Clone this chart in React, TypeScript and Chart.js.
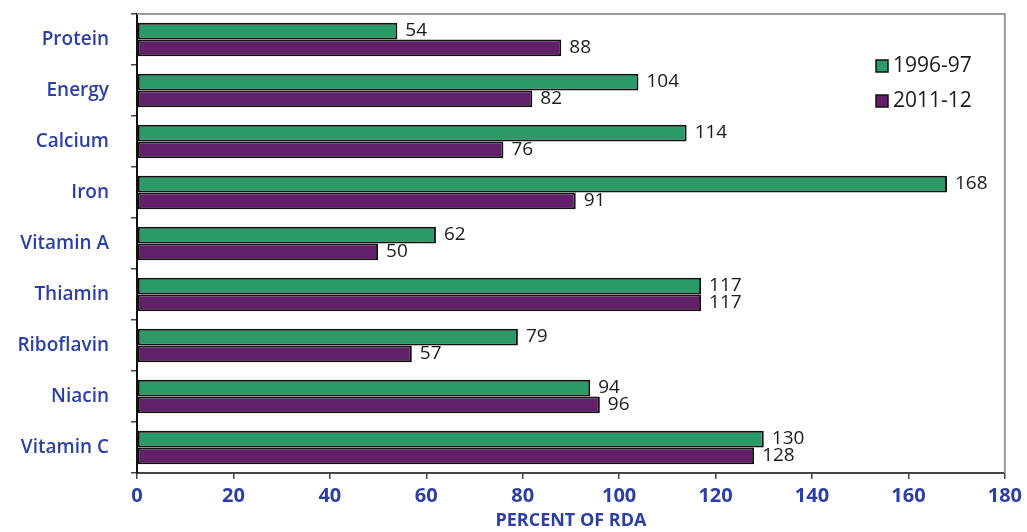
import React, { useEffect, useRef } from "react";
import { Chart, registerables } from "chart.js";

Chart.register(...registerables);

const categories = ["Protein", "Energy", "Calcium", "Iron", "Vitamin A", "Thiamin", "Riboflavin", "Niacin", "Vitamin C"];
const series1996 = [54, 104, 114, 168, 62, 117, 79, 94, 130];
const series2011 = [88, 82, 76, 91, 50, 117, 57, 96, 128];
const seriesLabels = ["1996-97", "2011-12"];
const xTicks = [0, 20, 40, 60, 80, 100, 120, 140, 160, 180];
const xTitle = "PERCENT OF RDA";

const GREEN = "#2a9a68";
const PURPLE = "#62206a";
const BLUE = "#2c3fa6";
const FONT = "'Open Sans', 'Noto Sans', sans-serif";

const framePlugin = {
  id: "frame",
  beforeDatasetsDraw(chart: any) {
    const { ctx, chartArea } = chart;
    ctx.save();
    ctx.strokeStyle = "#9a9a9a";
    ctx.lineWidth = 2;
    ctx.beginPath();
    ctx.moveTo(chartArea.left, chartArea.top);
    ctx.lineTo(chartArea.right, chartArea.top);
    ctx.lineTo(chartArea.right, chartArea.bottom);
    ctx.stroke();
    ctx.restore();
  },
};

const labelPlugin = {
  id: "valueLabels",
  afterDatasetsDraw(chart: any) {
    const { ctx } = chart;
    ctx.save();
    ctx.font = `19px ${FONT}`;
    ctx.fillStyle = "#1a1a1a";
    ctx.textAlign = "left";
    ctx.textBaseline = "middle";
    chart.data.datasets.forEach((ds: any, di: number) => {
      const meta = chart.getDatasetMeta(di);
      meta.data.forEach((el: any, i: number) => {
        ctx.fillText(String(ds.data[i]), el.x + 8, el.y);
      });
    });
    // legend
    const lx = 876;
    const ly = [66, 101];
    chart.data.datasets.forEach((ds: any, di: number) => {
      ctx.fillStyle = ds.backgroundColor;
      ctx.fillRect(lx, ly[di] - 6, 12, 12);
      ctx.strokeStyle = "#111";
      ctx.lineWidth = 1.5;
      ctx.strokeRect(lx, ly[di] - 6, 12, 12);
      ctx.fillStyle = "#1a1a1a";
      ctx.font = `21px ${FONT}`;
      ctx.fillText(ds.label, lx + 17, ly[di]);
    });
    ctx.restore();
  },
};

export default function App() {
  const ref = useRef<HTMLCanvasElement>(null);
  useEffect(() => {
    document.body.style.margin = "0";
    const chart = new Chart(ref.current as HTMLCanvasElement, {
      type: "bar",
      data: {
        labels: categories,
        datasets: [
          {
            label: seriesLabels[0],
            data: series1996,
            backgroundColor: GREEN,
            borderColor: "#111",
            borderWidth: 2,
            borderSkipped: false,
            categoryPercentage: 0.66,
            barPercentage: 1,
          },
          {
            label: seriesLabels[1],
            data: series2011,
            backgroundColor: PURPLE,
            borderColor: "#111",
            borderWidth: 2,
            borderSkipped: false,
            categoryPercentage: 0.66,
            barPercentage: 1,
          },
        ],
      },
      options: {
        indexAxis: "y",
        animation: false,
        responsive: false,
        maintainAspectRatio: false,
        layout: { padding: { top: 14, right: 21, left: 0, bottom: 0 } },
        plugins: { legend: { display: false }, tooltip: { enabled: false }, title: { display: false } },
        scales: {
          x: {
            min: 0,
            max: 180,
            afterBuildTicks(scale: any) {
              scale.ticks = xTicks.map((v) => ({ value: v }));
            },
            afterFit(scale: any) {
              scale.height = 59;
            },
            ticks: {
              color: BLUE,
              font: { family: FONT, size: 20, weight: "bold" },
              padding: 5,
            },
            grid: { display: true, drawOnChartArea: false, tickLength: 6, color: "#444", lineWidth: 1.5 },
            border: { display: true, color: "#444", width: 2 },
            title: {
              display: true,
              text: xTitle,
              color: BLUE,
              font: { family: FONT, size: 18, weight: "bold" },
              padding: { top: -4, bottom: 0 },
            },
          },
          y: {
            afterFit(scale: any) {
              scale.width = 137;
              scale.paddingTop = 0;
              scale.paddingBottom = 0;
            },
            ticks: {
              color: BLUE,
              font: { family: FONT, size: 19, weight: "600" },
              padding: 22,
            },
            grid: { display: true, drawOnChartArea: false, tickLength: 6, color: "#444", lineWidth: 1.5, offset: true },
            border: { display: true, color: "#111", width: 2 },
          },
        },
      },
      plugins: [framePlugin, labelPlugin],
    });
    return () => chart.destroy();
  }, []);
  return (
    <div style={{ position: "fixed", left: 0, top: 0, width: 1027, height: 532, background: "#fff" }}>
      <canvas ref={ref} width={1027} height={532} style={{ width: 1027, height: 532 }} />
    </div>
  );
}
